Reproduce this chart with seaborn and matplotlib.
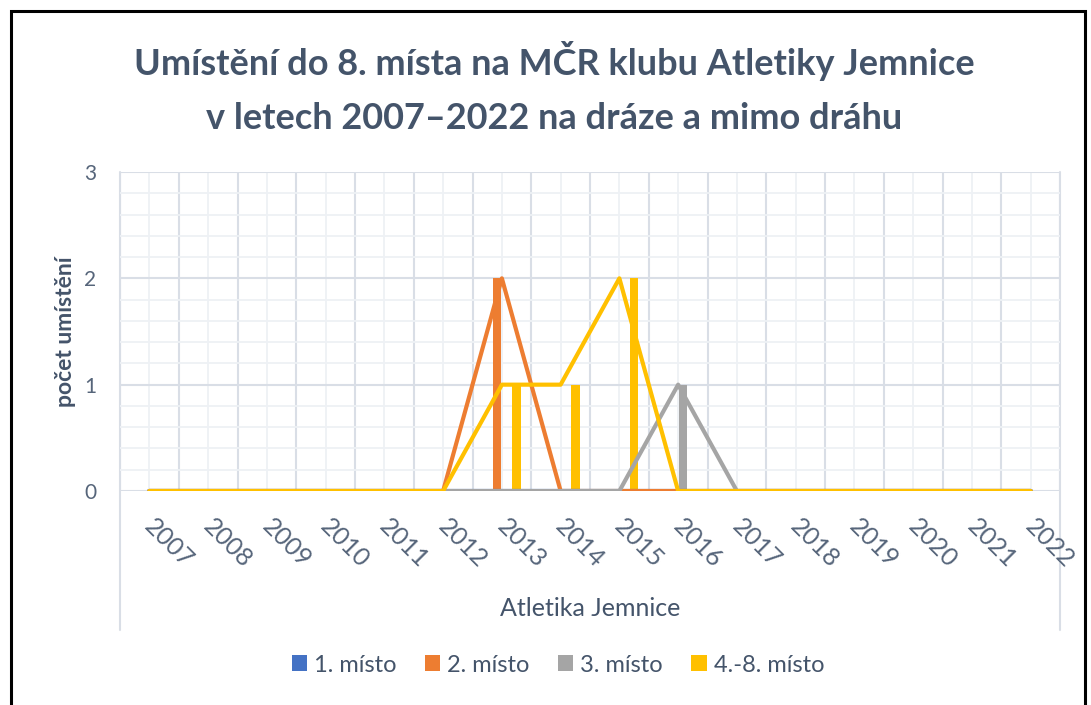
import numpy as np
import pandas as pd
import matplotlib
matplotlib.use("Agg")
import matplotlib.pyplot as plt
import matplotlib.transforms as mtransforms
from matplotlib.patches import Patch, Rectangle
import seaborn as sns

# data
roky = ['2007', '2008', '2009', '2010', '2011', '2012', '2013', '2014',
        '2015', '2016', '2017', '2018', '2019', '2020', '2021', '2022']
misto_1 = [0, 0, 0, 0, 0, 0, 0, 0, 0, 0, 0, 0, 0, 0, 0, 0]
misto_2 = [0, 0, 0, 0, 0, 0, 2, 0, 0, 0, 0, 0, 0, 0, 0, 0]
misto_3 = [0, 0, 0, 0, 0, 0, 0, 0, 0, 1, 0, 0, 0, 0, 0, 0]
misto_4_8 = [0, 0, 0, 0, 0, 0, 1, 1, 2, 0, 0, 0, 0, 0, 0, 0]
serie = ['1. místo', '2. místo', '3. místo', '4.-8. místo']
barvy = ['#4472C4', '#ED7D31', '#A5A5A5', '#FFC000']

df = pd.DataFrame({'rok': roky, '1. místo': misto_1, '2. místo': misto_2,
                   '3. místo': misto_3, '4.-8. místo': misto_4_8})
long = df.melt(id_vars='rok', var_name='misto', value_name='pocet')
long['pozice'] = long['rok'].map({r: i for i, r in enumerate(roky)})

sns.set_style('white')
plt.rcParams['font.family'] = ['Lato', 'DejaVu Sans']
text_col = '#44546A'
tick_col = '#56657A'
grid_major = '#D9DEE6'
grid_minor = '#EEF1F5'

fig = plt.figure(figsize=(10.91, 7.05), dpi=100)
ax = fig.add_axes([120 / 1091, 1 - 491 / 705, 940 / 1091, 319 / 705])

sns.barplot(data=long, x='rok', y='pocet', hue='misto', hue_order=serie,
            palette=barvy, saturation=1, width=0.66, gap=0.1, linewidth=0,
            legend=False, order=roky, ax=ax)
sns.lineplot(data=long, x='pozice', y='pocet', hue='misto', hue_order=serie,
             palette=barvy, linewidth=3, legend=False, sort=False, ax=ax)

ax.set_xlim(-0.5, 15.5)
ax.set_ylim(0, 3)
ax.set_xticks(range(len(roky)))
ax.set_xticklabels(roky)
ax.set_xticks(np.arange(-0.5, 16, 1), minor=True)
ax.set_yticks([0, 1, 2, 3])
ax.set_yticks(np.arange(0, 3.01, 0.2), minor=True)

ax.set_axisbelow(True)
ax.grid(which='minor', axis='x', color=grid_major, linewidth=1.5)
ax.grid(which='major', axis='x', color=grid_minor, linewidth=1.3)
ax.grid(which='major', axis='y', color=grid_major, linewidth=1.5)
ax.grid(which='minor', axis='y', color=grid_minor, linewidth=1.3)
for s in ax.spines.values():
    s.set_visible(False)

ax.tick_params(axis='both', which='both', length=0)
ax.tick_params(axis='x', pad=17, labelsize=18, labelcolor=tick_col)
ax.tick_params(axis='y', pad=17, labelsize=15, labelcolor=tick_col)
posun = mtransforms.ScaledTranslation(7 / 100, 0, fig.dpi_scale_trans)
for lab in ax.get_xticklabels():
    lab.set_rotation(-45)
    lab.set_rotation_mode('anchor')
    lab.set_ha('left')
    lab.set_va('top')
    lab.set_transform(lab.get_transform() + posun)

ax.set_xlabel('Atletika Jemnice', fontsize=18, color=text_col)
ax.xaxis.set_label_coords(0.5, (491 - 608) / 319)
ax.xaxis.label.set_va('center')
ax.set_ylabel('počet umístění', fontsize=16.5, fontweight='bold', color=text_col)
ax.yaxis.set_label_coords((65 - 120) / 940, 0.5)
ax.yaxis.label.set_va('center')

# plot area side lines running down to the legend
ax.axvline(-0.5, ymin=(491 - 630) / 319, ymax=1, color=grid_major, linewidth=1.5, clip_on=False, zorder=0)
ax.axvline(15.5, ymin=(491 - 630) / 319, ymax=1, color=grid_major, linewidth=1.5, clip_on=False, zorder=0)

fig.text(554 / 1091, 1 - 88 / 705,
         'Umístění do 8. místa na MČR klubu Atletiky Jemnice\nv letech 2007–2022 na dráze a mimo dráhu',
         ha='center', va='center', fontsize=26, fontweight='bold', color=text_col,
         linespacing=1.75)

handles = [Patch(facecolor=c, edgecolor='none') for c in barvy]
fig.legend(handles, serie, loc='center', bbox_to_anchor=(558 / 1091, 1 - 665 / 705),
           ncol=4, frameon=False, fontsize=17, labelcolor=text_col,
           handlelength=0.65, handleheight=0.65, handletextpad=0.3, columnspacing=1.2)

fig.patches.append(Rectangle((11 / 1091, -0.05), 1074 / 1091, 1.05 - 11 / 705,
                             transform=fig.transFigure, fill=False,
                             edgecolor='black', linewidth=2.2))

fig.savefig('out.png', dpi=100)
